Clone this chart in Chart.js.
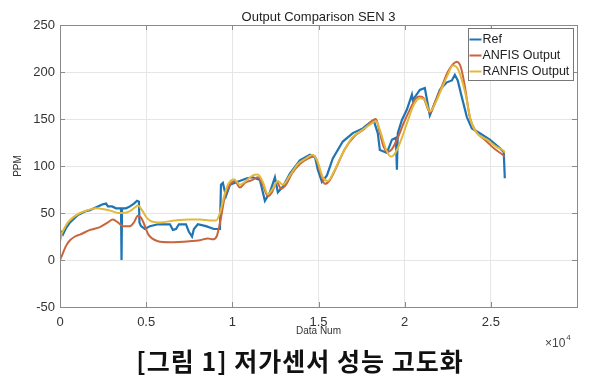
<!DOCTYPE html>
<html><head><meta charset="utf-8">
<script src="https://cdn.jsdelivr.net/npm/chart.js@4/dist/chart.umd.min.js"></script>
<style>
html,body{margin:0;padding:0;background:#fff;}
#wrap{position:relative;width:600px;height:383px;}
#c{position:absolute;left:0;top:0;}
#cap{position:absolute;left:0;top:341px;width:600px;text-align:center;font:700 25px 'Noto Sans CJK KR',sans-serif;letter-spacing:1px;line-height:38px;color:#111;}
</style></head><body>
<div id="wrap"><canvas id="c" width="600" height="383"></canvas><div id="cap">[그림 1] 저가센서 성능 고도화</div></div>
<script>
const chartTitle = 'Output Comparison SEN 3';
const xLabel = 'Data Num';
const yLabel = 'PPM';
const seriesNames = ['Ref', 'ANFIS Output', 'RANFIS Output'];
const seriesColors = ['#1f74b3', '#c9653c', '#e2b93c'];

const refX = [0,60,170,350,580,870,1040,1280,1510,1740,1970,2200,2440,2670,2780,3020,3250,3420,3540,3570,3600,3830,4060,4290,4470,4580,4610,4700,4930,5220,5680,6150,6380,6550,6730,6900,7310,7480,7660,7770,8000,8470,8930,9280,9340,9450,9630,9860,10270,10850,11190,11600,11890,12180,12470,12640,12930,13340,13920,14500,14790,14960,15200,15490,15830,16410,16990,17570,17980,18210,18440,18560,18970,19260,19490,19550,19600,19840,20130,20420,20470,20880,21170,21460,21750,22040,22450,22740,22910,23080,23320,23610,23900,24360,24940,25520,25750,25810];
const refY = [20,30,27,34,40,45,48,50,52,53,55,57,59,60,57,57,55,55,55,0,55,55,57,60,63,62,40,36,33,36,38,38,38,32,33,38,38,30,25,33,38,36,33,33,80,82,68,80,83,87,88,85,63,72,88,72,78,92,106,112,110,96,83,90,108,126,135,140,146,148,135,117,114,128,130,96,135,149,160,176,170,181,183,154,167,181,189,191,197,191,173,152,140,135,128,119,115,87];

const anfisX = [0,120,350,580,870,1160,1740,2320,2780,3070,3360,3650,4060,4290,4520,4700,4930,5100,5340,5680,6380,7540,8120,8580,8870,9110,9340,9570,9860,10150,10440,10730,11140,11480,11770,12060,12300,12590,12820,13110,13460,13920,14380,14790,15080,15370,15660,16070,16530,17110,17690,18100,18330,18560,18790,19020,19260,19600,19950,20300,20650,20880,21110,21460,21810,22160,22500,22790,23030,23260,23490,23780,24130,24650,25230,25690,25810];
const anfisY = [0,5,15,21,25,27,32,35,40,43,40,36,36,40,47,45,36,28,23,20,19,20,21,23,22,26,45,68,80,84,77,82,85,88,80,68,72,83,76,80,92,102,108,110,95,81,85,100,118,132,140,148,150,135,120,115,118,130,146,160,172,174,172,157,170,185,200,208,211,205,185,152,137,128,118,112,110];

const ranfisX = [0,230,460,810,1160,1620,2090,2550,3020,3360,3710,4060,4350,4520,4760,4990,5220,5800,6670,7540,8120,8700,9050,9280,9510,9740,10090,10440,10790,11190,11480,11770,12060,12350,12640,12930,13340,13800,14270,14670,14960,15250,15540,15890,16360,16940,17520,17980,18330,18620,18910,19200,19490,19840,20180,20530,20880,21170,21460,21810,22160,22500,22790,23030,23260,23550,23840,24190,24770,25350,25750,25810];
const ranfisY = [24,33,40,46,50,53,55,54,52,50,50,52,56,58,53,46,42,40,42,43,43,42,42,50,67,80,86,80,84,90,91,83,70,76,84,80,90,102,108,112,104,88,84,94,112,130,138,144,148,135,118,110,115,130,148,165,172,170,158,168,183,197,207,205,195,175,148,135,128,120,116,114];

const xTicks = [0,5000,10000,15000,20000,25000,30000];
const yTicks = [-50,0,50,100,150,200,250];

function pts(xs, ys){ return xs.map((x,i)=>({x:x, y:ys[i]})); }

const FONT = "'Liberation Sans', Arial, sans-serif";

const decor = {
  id: 'decor',
  afterDatasetsDraw(chart){
    const {ctx, chartArea:a, scales} = chart;
    ctx.save();
    ctx.strokeStyle = '#8a8a8a';
    ctx.lineWidth = 1;
    ctx.strokeRect(Math.round(a.left)+0.5, Math.round(a.top)+0.5, Math.round(a.right-a.left), Math.round(a.bottom-a.top));
    ctx.beginPath();
    xTicks.forEach(v=>{
      const px = Math.round(scales.x.getPixelForValue(v))+0.5;
      ctx.moveTo(px, a.bottom); ctx.lineTo(px, a.bottom-5);
      ctx.moveTo(px, a.top); ctx.lineTo(px, a.top+5);
    });
    yTicks.forEach(v=>{
      const py = Math.round(scales.y.getPixelForValue(v))+0.5;
      ctx.moveTo(a.left, py); ctx.lineTo(a.left+5, py);
      ctx.moveTo(a.right, py); ctx.lineTo(a.right-5, py);
    });
    ctx.stroke();
    ctx.restore();
  },
  afterDraw(chart){
    const {ctx, chartArea:a} = chart;
    const cx = (a.left + a.right)/2;
    ctx.save();
    ctx.fillStyle = '#222';
    ctx.textAlign = 'center';
    ctx.textBaseline = 'middle';
    ctx.font = '13px ' + FONT;
    ctx.fillText(chartTitle, cx, a.top - 8);
    ctx.font = '10px ' + FONT;
    ctx.fillStyle = '#333';
    ctx.fillText(xLabel, cx, a.bottom + 24);
    ctx.save();
    ctx.translate(a.left - 42, (a.top + a.bottom)/2);
    ctx.rotate(-Math.PI/2);
    ctx.fillText(yLabel, 0, 0);
    ctx.restore();
    // exponent
    ctx.textAlign = 'left';
    ctx.font = '12px ' + FONT;
    ctx.fillStyle = '#444';
    const ex = a.right - 32, ey = a.bottom + 37;
    ctx.fillText('\u00d710', ex, ey);
    const w = ctx.measureText('\u00d710').width;
    ctx.font = '8px ' + FONT;
    ctx.fillText('4', ex + w + 1, ey - 6);
    // legend
    const bw = 105, bh = 52;
    const bx = Math.round(a.right - 4 - bw) + 0.5, by = Math.round(a.top + 3) + 0.5;
    ctx.fillStyle = '#fff';
    ctx.fillRect(bx, by, bw, bh);
    ctx.strokeStyle = '#777';
    ctx.lineWidth = 1;
    ctx.strokeRect(bx, by, bw, bh);
    ctx.font = '12.5px ' + FONT;
    ctx.textBaseline = 'middle';
    seriesNames.forEach((n,i)=>{
      const yy = by + 11 + i*16;
      ctx.strokeStyle = seriesColors[i];
      ctx.lineWidth = 2;
      ctx.beginPath(); ctx.moveTo(bx+1, yy); ctx.lineTo(bx+13, yy); ctx.stroke();
      ctx.fillStyle = '#222';
      ctx.fillText(n, bx+14, yy);
    });
    ctx.restore();
  }
};

new Chart(document.getElementById('c'), {
  type: 'line',
  data: {
    datasets: [
      {label: seriesNames[0], data: pts(refX, refY), borderColor: seriesColors[0], borderWidth: 2.2, pointRadius: 0, tension: 0, order: 3},
      {label: seriesNames[1], data: pts(anfisX, anfisY), borderColor: seriesColors[1], borderWidth: 2, pointRadius: 0, cubicInterpolationMode: 'monotone', order: 2},
      {label: seriesNames[2], data: pts(ranfisX, ranfisY), borderColor: seriesColors[2], borderWidth: 2, pointRadius: 0, cubicInterpolationMode: 'monotone', order: 1}
    ]
  },
  options: {
    responsive: false,
    animation: false,
    events: [],
    layout: {padding: {left: 0, right: 23, top: 25, bottom: 0}},
    plugins: {legend: {display: false}, tooltip: {enabled: false}, title: {display: false}},
    scales: {
      x: {
        type: 'linear', min: 0, max: 30000,
        afterBuildTicks: s => { s.ticks = xTicks.map(v=>({value:v})); },
        afterFit: s => { s.height = 76; },
        grid: {color: '#e6e6e6', drawTicks: false},
        border: {display: false},
        ticks: {padding: 8, color: '#333', font: {family: FONT, size: 13}, maxRotation: 0,
          callback: v => v >= 30000 ? '' : String(v/10000)}
      },
      y: {
        min: -50, max: 250,
        afterBuildTicks: s => { s.ticks = yTicks.map(v=>({value:v})); },
        afterFit: s => { s.width = 60; },
        grid: {color: '#e6e6e6', drawTicks: false},
        border: {display: false},
        ticks: {padding: 5, color: '#333', font: {family: FONT, size: 13}}
      }
    }
  },
  plugins: [decor]
});
</script>
</body></html>
